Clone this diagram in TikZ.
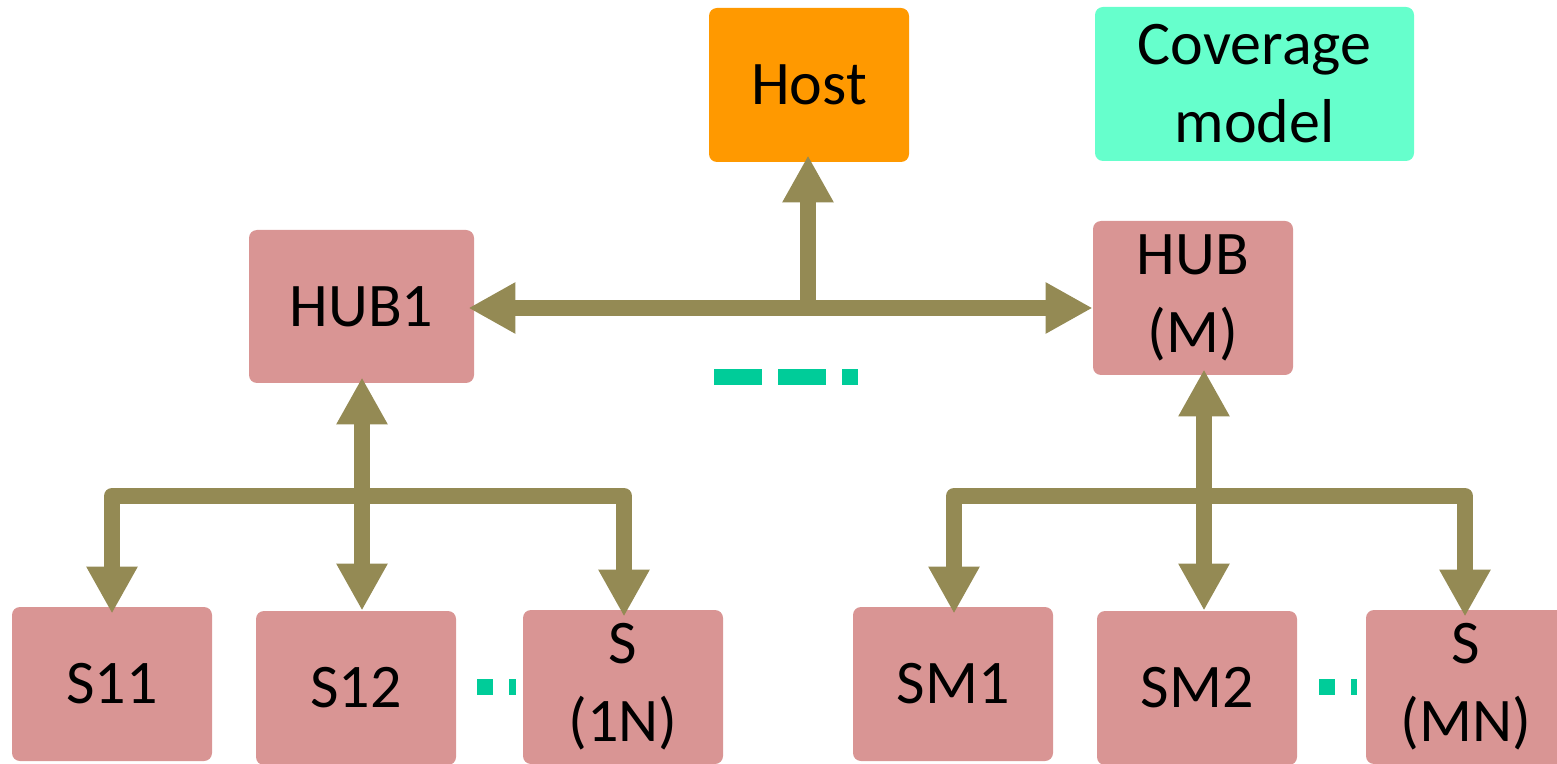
\documentclass[tikz,border=0pt]{standalone}
\usepackage{fontspec}
\setmainfont{Carlito}
\usetikzlibrary{arrows.meta}

\definecolor{boxpink}{HTML}{D99594}
\definecolor{hostorange}{HTML}{FF9900}
\definecolor{covaqua}{HTML}{66FFCC}
\definecolor{linkolive}{HTML}{948A54}
\definecolor{dotteal}{HTML}{00CC99}

\tikzset{
  unit/.style={rounded corners=4pt, inner sep=0pt, minimum width=100pt,
    minimum height=77pt, align=center, font=\fontsize{31}{39}\selectfont},
  slave/.style={unit, fill=boxpink},
  link/.style={draw=linkolive, line width=8pt, line join=round,
    -{Triangle[width=24pt 0 1, length=23.5pt 0 1]}},
  twoway/.style={link, {Triangle[width=24pt 0 1, length=23.5pt 0 1]}-{Triangle[width=24pt 0 1, length=23.5pt 0 1]}},
  gapmark/.style={draw=dotteal, line width=8pt},
}

\begin{document}
\begin{tikzpicture}[x=0.5pt, y=-0.5pt]
  \useasboundingbox (0,0) rectangle (1557,764);

  % top level
  \node[unit, fill=hostorange] (host) at (809,85) {Host};
  \node[unit, fill=covaqua, minimum width=159.5pt] (cov) at (1254.5,84) {Coverage\\model};

  % hubs
  \node[slave, minimum width=112.5pt, minimum height=76.5pt] (hub1) at (361.5,306.5) {HUB1};
  \node[slave] (hubm) at (1193,298) {HUB\\(M)};

  % slaves under HUB1
  \node[slave] (s11) at (112,684) {S11};
  \node[slave] (s12) at (356,688) {S12};
  \node[slave] (s1n) at (623,687) {S\\(1N)};

  % slaves under HUB(M)
  \node[slave] (sm1) at (953,684) {SM1};
  \node[slave] (sm2) at (1197,688) {SM2};
  \node[slave] (smn) at (1466,687) {S\\(MN)};

  % host bus
  \coordinate (tj) at (808,308);
  \draw[twoway, shorten <=-3pt] (hub1.east |- tj) -- (hubm.west |- tj);
  \draw[link, shorten >=-3.5pt] (tj) -- (tj |- host.south);

  % HUB1 tree
  \coordinate (j1) at (362,496);
  \draw[link, shorten >=-3pt] (j1) -- (j1 |- hub1.south);
  \draw[link, shorten >=-3.5pt] (j1) -| (s11.north);
  \draw[link] (j1) -- (j1 |- s12.north);
  \draw[link, shorten >=-3.5pt] (j1) -| ([xshift=0.5pt]s1n.north);

  % HUB(M) tree
  \coordinate (j2) at (1204,496);
  \draw[link, shorten >=-3pt] (j2) -- (j2 |- hubm.south);
  \draw[link, shorten >=-3.5pt] (j2) -| ([xshift=0.5pt]sm1.north);
  \draw[link] (j2) -- (j2 |- sm2.north);
  \draw[link, shorten >=-3.5pt] (j2) -| ([xshift=-0.5pt]smn.north);

  % ellipsis marks
  \draw[gapmark, dash pattern=on 24pt off 8pt] (714,377) -- (858,377);
  \draw[gapmark, dash pattern=on 8pt off 8pt] (477,687) -- (516,687);
  \draw[gapmark, dash pattern=on 8pt off 8pt] (1319,687) -- (1357,687);
\end{tikzpicture}
\end{document}
